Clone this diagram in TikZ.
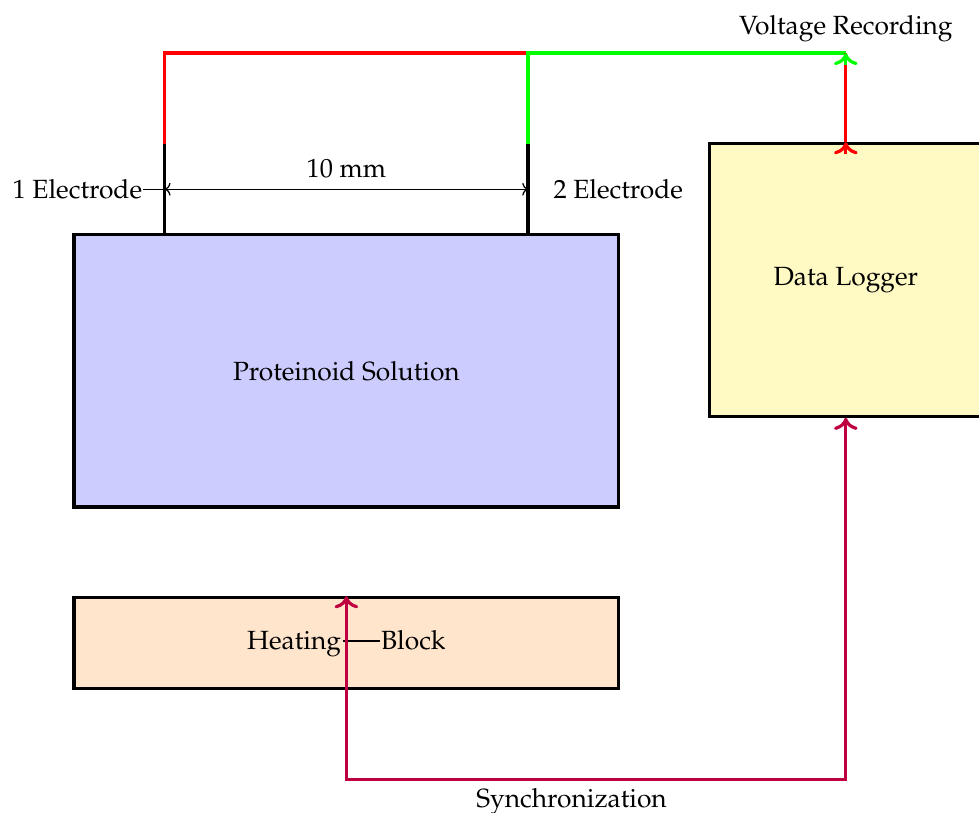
\documentclass[tikz,border=0pt]{standalone}
\usepackage[T1]{fontenc}
\usepackage{mathpazo}
\usetikzlibrary{arrows.meta,calc}
\definecolor{syncc}{RGB}{191,0,64}
\definecolor{logfill}{RGB}{255,249,196}
\tikzset{
  tipA/.tip={Computer Modern Rightarrow[length=3.8pt,width=7.4pt]},
  tipB/.tip={Computer Modern Rightarrow[length=1.8pt,width=4pt]},
  boxnode/.style={draw=black, line width=1pt, inner sep=0pt},
  wire/.style={line width=1pt},
  thinwire/.style={line width=0.4pt},
}
\begin{document}
\begin{tikzpicture}[font=\fontsize{8.25}{10}\selectfont]
\useasboundingbox (-0.815,-3.359) rectangle (9.967,5.584);
% boxes
\node[boxnode, fill=blue!20, minimum width=6cm, minimum height=3cm] (sol) at (3,1.5) {Proteinoid Solution};
\node[boxnode, fill=orange!20, minimum width=6cm, minimum height=1cm] (hb) at (3,-1.5) {Heating\kern0.5pt\rule[0.27em]{1.4em}{0.45pt}\kern0.5pt Block};
\node[boxnode, fill=logfill, minimum width=3cm, minimum height=3cm] (dl) at (8.5,2.5) {Data Logger};
% coordinates
\coordinate (e1b) at (1,3);
\coordinate (e1t) at (1,4);
\coordinate (w1) at (1,5);
\coordinate (e2b) at (5,3);
\coordinate (e2t) at (5,4);
\coordinate (w2) at (5,5);
\coordinate (vr) at (8.5,5);
\coordinate (d1) at (1,3.5);
\coordinate (d2) at (5,3.5);
\coordinate (s1) at (3,-3);
\coordinate (s2) at (8.5,-3);
% electrodes
\draw[wire] (e1b) -- (e1t);
\draw[wire] (e2b) -- (e2t);
\draw[wire, red] (e1t) -- (w1) -- (w2);
\draw[wire, green] (e2t) -- (w2) -- (vr);
\draw[wire, red] (dl.north) -- (vr);
\draw[wire, red, -tipA] ($(dl.north)+(0,-3.8pt)$) -- (dl.north);
\draw[wire, green, -tipA] ($(vr)+(0,-3.8pt)$) -- (vr);
\node[above] (vlab) at (vr) {Voltage Recording};
% dimension
\draw[thinwire, tipB-tipB] (d1) -- node[above] (mm) {10 mm} (d2);
\node[anchor=east, inner xsep=0pt] (e1) at (0.757,3.5) {1 Electrode};
\draw[thinwire] (e1.east) -- (d1);
\node[anchor=west, inner xsep=0pt] (e2) at (5.275,3.5) {2 Electrode};
% synchronization
\draw[wire, syncc, tipA-tipA] (hb.north) -- (s1) -- (s2) -- (dl.south);
\node[below, inner ysep=2.5pt] (sync) at (5.48,-3) {Synchronization};
\end{tikzpicture}
\end{document}
